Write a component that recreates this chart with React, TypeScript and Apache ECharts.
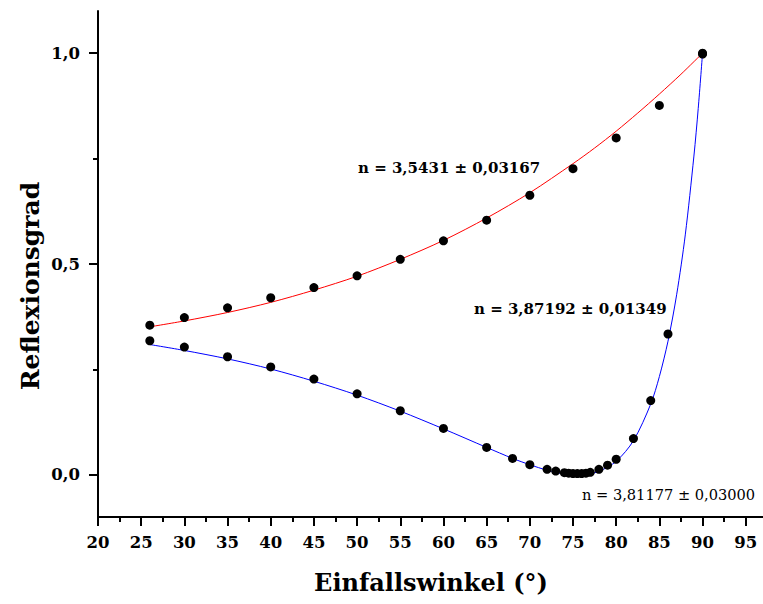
import React, { useEffect, useRef } from "react";
import * as echarts from "echarts";

// measured data points (angle in degrees, reflectance)
const sAngles = [26, 30, 35, 40, 45, 50, 55, 60, 65, 70, 75, 80, 85, 90];
const sValues = [0.355, 0.373, 0.396, 0.420, 0.444, 0.472, 0.511, 0.555, 0.604, 0.663, 0.726, 0.799, 0.876, 1.0];

const pAngles = [26, 30, 35, 40, 45, 50, 55, 60, 65, 68, 70, 72, 73, 74, 74.5, 75, 75.5, 76, 76.5, 77, 78, 79, 80, 82, 84, 86, 90];
const pValues = [0.318, 0.303, 0.280, 0.256, 0.227, 0.192, 0.152, 0.110, 0.065, 0.039, 0.024, 0.013, 0.009, 0.005, 0.004, 0.003, 0.003, 0.003, 0.004, 0.006, 0.013, 0.023, 0.037, 0.086, 0.176, 0.334, 0.998];

// fitted curves
const sFitAngles = [26, 30, 35, 40, 45, 50, 55, 60, 65, 70, 75, 77.5, 80, 82.5, 85, 87.5, 90];
const sFitValues = [0.351, 0.365, 0.385, 0.409, 0.438, 0.471, 0.511, 0.556, 0.609, 0.669, 0.738, 0.775, 0.815, 0.858, 0.903, 0.950, 1.0];

const pFitAngles = [26, 30, 35, 40, 45, 50, 55, 60, 65, 68, 70, 72, 74, 75.5, 77, 78, 80, 82, 84, 85, 86, 87, 88, 89, 89.5, 90];
const pFitValues = [0.309, 0.295, 0.275, 0.251, 0.222, 0.189, 0.151, 0.109, 0.065, 0.039, 0.024, 0.011, 0.002, 0.0, 0.003, 0.008, 0.032, 0.081, 0.168, 0.233, 0.317, 0.427, 0.569, 0.756, 0.869, 1.0];

const xMajorTicks = [20, 25, 30, 35, 40, 45, 50, 55, 60, 65, 70, 75, 80, 85, 90, 95];
const xMinorTicks = [22.5, 27.5, 32.5, 37.5, 42.5, 47.5, 52.5, 57.5, 62.5, 67.5, 72.5, 77.5, 82.5, 87.5, 92.5];
const yMajorTicks = [0, 0.5, 1.0];
const yMinorTicks = [0.25, 0.75];

const annotations = [
  { text: "n = 3,5431 ± 0,03167", x: 358, y: 168, bold: true, size: 15 },
  { text: "n = 3,87192 ± 0,01349", x: 474, y: 309, bold: true, size: 15 },
  { text: "n = 3,81177 ± 0,03000", x: 582, y: 494, bold: false, size: 14.6 },
];

const FONT = "'DejaVu Serif', serif";

export default function App() {
  const ref = useRef<HTMLDivElement>(null);
  useEffect(() => {
    if (!ref.current) return;
    const chart = echarts.init(ref.current, null, { renderer: "svg" });
    const zip = (a: number[], b: number[]) => a.map((v, i) => [v, b[i]]);
    const axisLineStyle = { color: "#000", width: 2 };
    chart.setOption({
      animation: false,
      backgroundColor: "#fff",
      grid: { left: 98, top: 11, right: 0, bottom: 87 },
      xAxis: [
        {
          type: "value",
          min: 20,
          max: 97,
          position: "bottom",
          axisLine: { show: true, onZero: false, lineStyle: axisLineStyle },
          axisTick: { show: true, length: 9, lineStyle: { color: "#000", width: 2 }, customValues: xMajorTicks },
          axisLabel: {
            customValues: xMajorTicks,
            color: "#000",
            fontFamily: FONT,
            fontWeight: "bold",
            fontSize: 16.5,
            margin: 17,
          },
          splitLine: { show: false },
        },
        {
          type: "value",
          min: 20,
          max: 97,
          position: "bottom",
          axisLine: { show: false, onZero: false },
          axisTick: { show: true, length: 5, lineStyle: { color: "#000", width: 2 }, customValues: xMinorTicks },
          axisLabel: { show: false },
          splitLine: { show: false },
        },
      ],
      yAxis: [
        {
          type: "value",
          min: -0.1,
          max: 1.1,
          position: "left",
          axisLine: { show: true, onZero: false, lineStyle: axisLineStyle },
          axisTick: { show: true, length: 9, lineStyle: { color: "#000", width: 2 }, customValues: yMajorTicks },
          axisLabel: {
            customValues: yMajorTicks,
            color: "#000",
            fontFamily: FONT,
            fontWeight: "bold",
            fontSize: 16.5,
            margin: 18,
            formatter: (v: number) => v.toFixed(1).replace(".", ","),
          },
          splitLine: { show: false },
        },
        {
          type: "value",
          min: -0.1,
          max: 1.1,
          position: "left",
          axisLine: { show: false, onZero: false },
          axisTick: { show: true, length: 5, lineStyle: { color: "#000", width: 2 }, customValues: yMinorTicks },
          axisLabel: { show: false },
          splitLine: { show: false },
        },
      ],
      series: [
        {
          type: "line",
          data: zip(sFitAngles, sFitValues),
          showSymbol: false,
          smooth: 0.3,
          lineStyle: { color: "#ff0000", width: 1 },
          z: 2,
        },
        {
          type: "line",
          data: zip(pFitAngles, pFitValues),
          showSymbol: false,
          smooth: 0.3,
          lineStyle: { color: "#0000ff", width: 1 },
          z: 2,
        },
        {
          type: "scatter",
          data: zip(sAngles, sValues),
          symbolSize: 9,
          itemStyle: { color: "#000", opacity: 1 },
          z: 3,
        },
        {
          type: "scatter",
          data: zip(pAngles, pValues),
          symbolSize: 9,
          itemStyle: { color: "#000", opacity: 1 },
          z: 3,
        },
      ],
      graphic: [
        ...annotations.map((a) => ({
          type: "text",
          x: a.x,
          y: a.y,
          style: {
            text: a.text,
            fill: "#000",
            font: `${a.bold ? "bold " : ""}${a.size}px ${FONT}`,
            verticalAlign: "middle",
            align: "left",
          },
        })),
        {
          type: "text",
          x: 431,
          y: 582,
          style: {
            text: "Einfallswinkel (°)",
            fill: "#000",
            font: `bold 24px ${FONT}`,
            align: "center",
            verticalAlign: "middle",
          },
        },
        {
          type: "text",
          x: 30,
          y: 286,
          rotation: Math.PI / 2,
          style: {
            text: "Reflexionsgrad",
            fill: "#000",
            font: `bold 25px ${FONT}`,
            align: "center",
            verticalAlign: "middle",
          },
        },
      ],
    });
    return () => chart.dispose();
  }, []);
  return (
    <div
      ref={ref}
      style={{ position: "absolute", left: 0, top: 0, width: 763, height: 604 }}
    />
  );
}
